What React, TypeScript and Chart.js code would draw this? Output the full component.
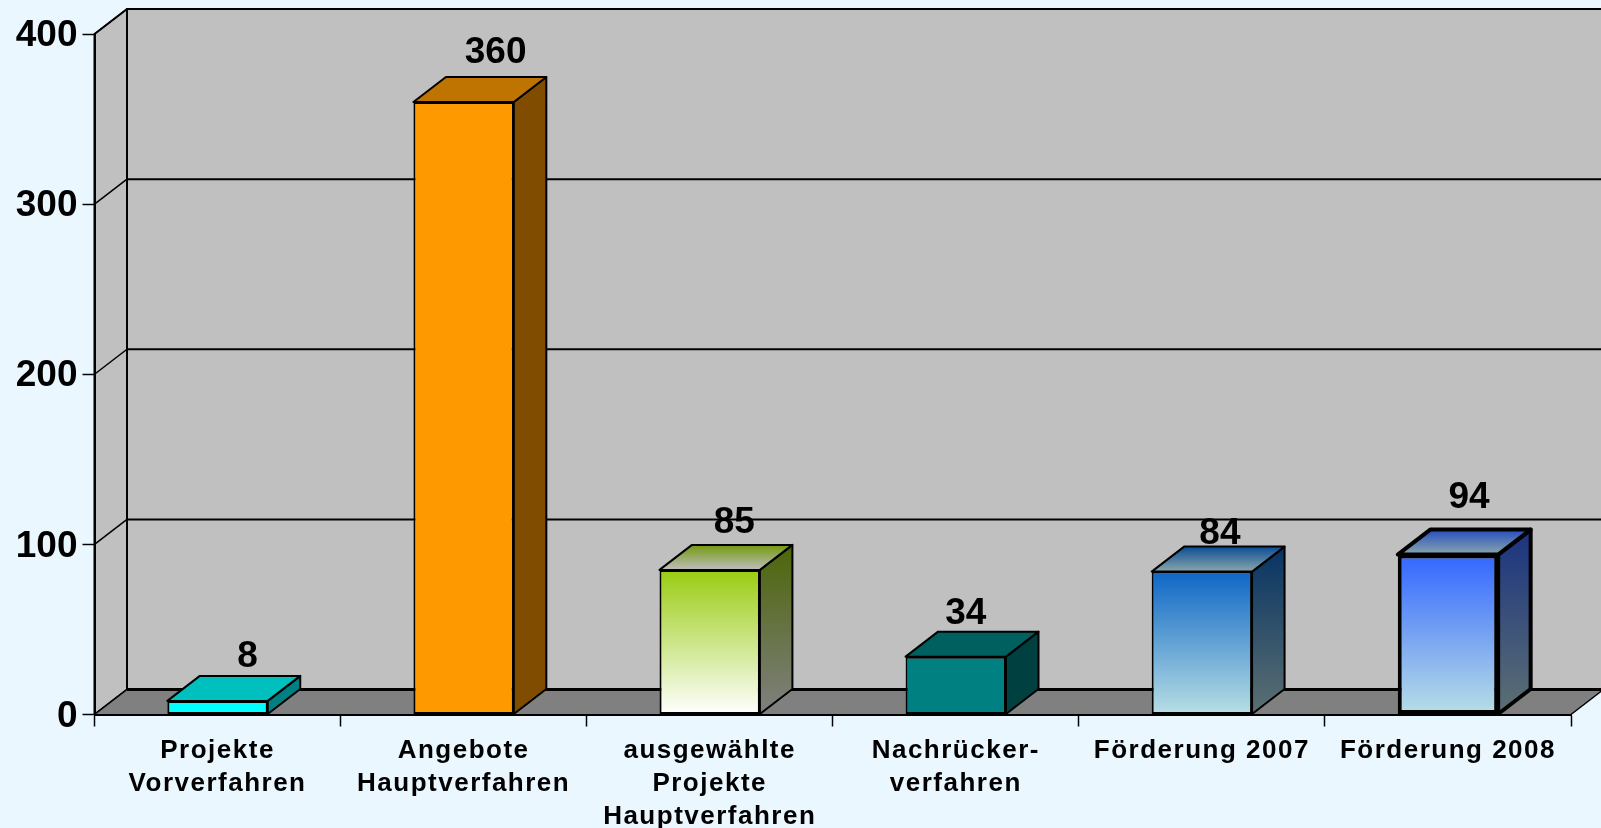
import React, { useEffect, useRef } from "react";
import { Chart, registerables } from "chart.js";

Chart.register(...registerables);

const categories: (string | string[])[] = [
  ["Projekte", "Vorverfahren"],
  ["Angebote", "Hauptverfahren"],
  ["ausgewählte", "Projekte", "Hauptverfahren"],
  ["Nachrücker-", "verfahren"],
  "Förderung 2007",
  "Förderung 2008",
];
const values = [8, 360, 85, 34, 84, 94];
const yTicks = [0, 100, 200, 300, 400];

const frontTop = ["#00FFFF", "#FF9900", "#99CC11", "#008080", "#0E66C6", "#3366FF"];
const frontBottom = ["#00FFFF", "#FF9900", "#FFFFFF", "#008080", "#B8DFE4", "#B9DFE5"];
const outlineWidths = [2, 2, 2, 2, 2, 4];

// label placement relative to the back edge of each bar's top face
const labelShiftX = [30, 32, 24.5, 10, 18, 21];
const labelShiftY = [19, 24, 22, 18, 13, 31.5];

const PAGE_BG = "#EBF7FE";
const WALL = "#C0C0C0";
const FLOOR = "#808080";
const DEPTH_X = 32.5;
const DEPTH_Y = 25;
const FONT = '"Liberation Sans", Arial, sans-serif';

function shade(hex: string, k: number): string {
  const n = parseInt(hex.slice(1), 16);
  const r = Math.round(((n >> 16) & 255) * k);
  const g = Math.round(((n >> 8) & 255) * k);
  const b = Math.round((n & 255) * k);
  return `rgb(${r},${g},${b})`;
}

function quad(ctx: CanvasRenderingContext2D, pts: number[][], fill: any, stroke: number) {
  ctx.beginPath();
  ctx.moveTo(pts[0][0], pts[0][1]);
  for (let i = 1; i < pts.length; i++) ctx.lineTo(pts[i][0], pts[i][1]);
  ctx.closePath();
  if (fill) {
    ctx.fillStyle = fill;
    ctx.fill();
  }
  if (stroke > 0) {
    ctx.lineWidth = stroke;
    ctx.strokeStyle = "#000";
    ctx.lineJoin = "round";
    ctx.stroke();
  }
}

const box3d = {
  id: "box3d",
  beforeDraw(chart: any) {
    const { ctx, chartArea: a, scales } = chart;
    const sx = scales.x;
    if (!sx.__spaced) {
      sx.__spaced = true;
      const orig = sx.drawLabels;
      sx.drawLabels = function (area: any) {
        ctx.save();
        (ctx as any).letterSpacing = "1.5px";
        orig.call(this, area);
        ctx.restore();
      };
      const sy = scales.y;
      const origY = sy.drawLabels;
      sy.drawLabels = function (area: any) {
        ctx.save();
        ctx.translate(0, 2);
        origY.call(this, area);
        ctx.restore();
      };
    }
    const L = a.left;
    const R = a.right;
    const T = a.top;
    const B = a.bottom;
    ctx.save();
    // back wall
    quad(ctx, [[L + DEPTH_X, T - DEPTH_Y], [R + DEPTH_X, T - DEPTH_Y], [R + DEPTH_X, B - DEPTH_Y], [L + DEPTH_X, B - DEPTH_Y]], WALL, 2);
    // left wall
    quad(ctx, [[L, T], [L + DEPTH_X, T - DEPTH_Y], [L + DEPTH_X, B - DEPTH_Y], [L, B]], WALL, 2);
    // floor
    quad(ctx, [[L, B], [L + DEPTH_X, B - DEPTH_Y], [R + DEPTH_X, B - DEPTH_Y], [R, B]], FLOOR, 0);
    // gridlines on walls
    ctx.strokeStyle = "#000";
    yTicks.forEach((v) => {
      const y = scales.y.getPixelForValue(v);
      ctx.lineWidth = v === 0 ? 3 : 2;
      ctx.beginPath();
      ctx.moveTo(L + DEPTH_X, y - DEPTH_Y);
      ctx.lineTo(R + DEPTH_X, y - DEPTH_Y);
      ctx.stroke();
      ctx.lineWidth = 1.5;
      ctx.beginPath();
      ctx.moveTo(L, y);
      ctx.lineTo(L + DEPTH_X, y - DEPTH_Y);
      ctx.stroke();
    });
    // right floor edge
    ctx.lineWidth = 1.5;
    ctx.beginPath();
    ctx.moveTo(R, B);
    ctx.lineTo(R + DEPTH_X, B - DEPTH_Y);
    ctx.stroke();
    ctx.restore();
  },
  beforeDatasetsDraw(chart: any) {
    const { ctx } = chart;
    const meta = chart.getDatasetMeta(0);
    ctx.save();
    meta.data.forEach((bar: any, i: number) => {
      const { x, y, base, width } = bar.getProps(["x", "y", "base", "width"], true);
      const l = x - width / 2;
      const r = x + width / 2;
      const sideGrad = ctx.createLinearGradient(0, y - DEPTH_Y, 0, base);
      sideGrad.addColorStop(0, shade(frontTop[i], 0.5));
      sideGrad.addColorStop(1, shade(frontBottom[i], 0.5));
      const topGrad = ctx.createLinearGradient(0, y - DEPTH_Y, 0, y);
      topGrad.addColorStop(0, shade(frontTop[i], 0.75));
      topGrad.addColorStop(1, shade(frontBottom[i], 0.75));
      const w = outlineWidths[i];
      quad(ctx, [[r, y], [r + DEPTH_X, y - DEPTH_Y], [r + DEPTH_X, base - DEPTH_Y], [r, base]], sideGrad, w);
      quad(ctx, [[l, y], [l + DEPTH_X, y - DEPTH_Y], [r + DEPTH_X, y - DEPTH_Y], [r, y]], topGrad, w);
    });
    ctx.restore();
  },
  afterDatasetsDraw(chart: any) {
    const { ctx } = chart;
    const meta = chart.getDatasetMeta(0);
    ctx.save();
    ctx.font = `bold 37px ${FONT}`;
    ctx.fillStyle = "#000";
    ctx.textAlign = "center";
    ctx.textBaseline = "middle";
    meta.data.forEach((bar: any, i: number) => {
      const { x, y } = bar.getProps(["x", "y"], true);
      ctx.fillText(String(values[i]), x + labelShiftX[i], y - DEPTH_Y - labelShiftY[i]);
    });
    ctx.restore();
  },
};

export default function App() {
  const ref = useRef<HTMLCanvasElement>(null);
  useEffect(() => {
    const chart = new Chart(ref.current as HTMLCanvasElement, {
      type: "bar",
      data: {
        labels: categories as any,
        datasets: [
          {
            data: values,
            barPercentage: 0.408,
            categoryPercentage: 1,
            borderColor: "#000",
            borderSkipped: false,
            borderWidth: (c: any) => outlineWidths[c.dataIndex] ?? 2,
            backgroundColor: (c: any) => {
              const i = c.dataIndex;
              const ch = c.chart;
              if (i === undefined) return "#000";
              if (!ch.chartArea || !ch.scales.y) return frontTop[i];
              const y = ch.scales.y.getPixelForValue(values[i]);
              const g = ch.ctx.createLinearGradient(0, y, 0, ch.scales.y.getPixelForValue(0));
              g.addColorStop(0, frontTop[i]);
              g.addColorStop(1, frontBottom[i]);
              return g;
            },
          } as any,
        ],
      },
      options: {
        responsive: false,
        animation: false,
        devicePixelRatio: 1,
        layout: { padding: { top: 34, right: 30, left: 0, bottom: 0 } },
        plugins: { legend: { display: false }, tooltip: { enabled: false }, title: { display: false } },
        scales: {
          x: {
            afterFit: (s: any) => {
              s.height = 828 - 714.5;
            },
            border: { display: true, color: "#000", width: 2 },
            grid: { drawOnChartArea: false, drawTicks: true, tickLength: 12, tickColor: "#000", tickWidth: 1.5, offset: true },
            ticks: {
              autoSkip: false,
              maxRotation: 0,
              minRotation: 0,
              padding: 8,
              color: "#000",
              font: { family: FONT, size: 26, weight: "bold", lineHeight: 1.27 },
            },
          },
          y: {
            min: 0,
            max: 400,
            afterFit: (s: any) => {
              s.width = 94.5;
            },
            afterBuildTicks: (s: any) => {
              s.ticks = yTicks.map((v) => ({ value: v }));
            },
            border: { display: true, color: "#000", width: 2 },
            grid: { drawOnChartArea: false, drawTicks: true, tickLength: 12, tickColor: "#000", tickWidth: 1.5 },
            ticks: {
              padding: 5,
              color: "#000",
              font: { family: FONT, size: 37, weight: "bold" },
            },
          },
        },
      },
      plugins: [box3d as any],
    });
    return () => chart.destroy();
  }, []);
  return (
    <div style={{ position: "fixed", left: 0, top: 0, width: 1601, height: 828, background: PAGE_BG, overflow: "hidden" }}>
      <canvas ref={ref} width={1601} height={828} style={{ display: "block", width: 1601, height: 828 }} />
    </div>
  );
}
